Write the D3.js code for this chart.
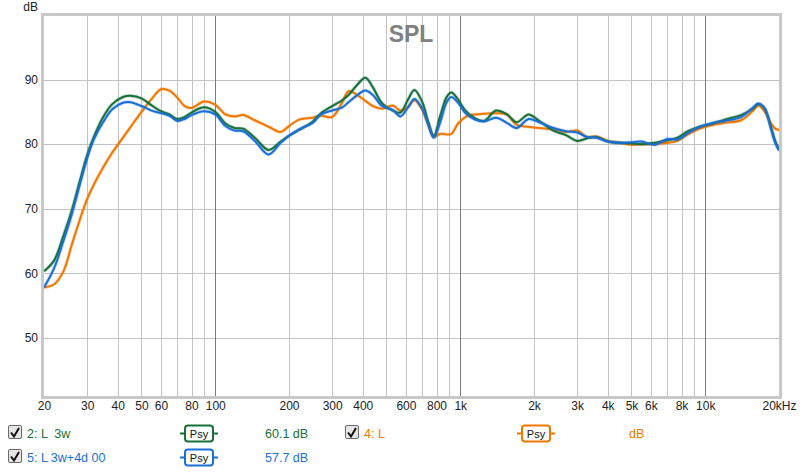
<!DOCTYPE html>
<html><head><meta charset="utf-8">
<script src="https://cdn.jsdelivr.net/npm/d3@7"></script>
<style>
body{margin:0;background:#fff;}
svg{display:block;font-family:"Liberation Sans",Arial,sans-serif;}
.pre{white-space:pre;}
</style></head>
<body>
<svg id="c" width="800" height="472"></svg>
<script>
const freqs = [20,22,24,26,28,30,32,35,38,42,45,50,55,60,65,70,75,80,90,100,110,120,130,145,165,185,200,220,250,270,300,330,350,380,410,440,480,530,570,610,650,700,740,780,830,880,920,980,1050,1150,1250,1400,1550,1700,1900,2100,2400,2700,3000,3300,3600,4000,4500,5000,5500,6200,7000,7700,8500,9500,10500,12000,14000,15500,16500,17500,18500,19300,20000];
const green3w = [60.3,62.0,65.8,69.8,74.3,78.3,81.2,84.3,86.2,87.3,87.5,87.1,86.0,85.1,84.6,83.9,84.2,84.9,85.7,85.0,83.2,82.5,82.4,81.0,79.1,80.4,81.3,82.2,83.5,84.8,85.9,86.8,87.6,89.2,90.3,88.8,86.3,85.2,84.9,86.8,88.4,86.5,83.5,81.3,84.5,87.3,88.0,86.9,85.2,84.0,83.6,85.2,84.6,83.4,84.6,83.6,82.1,81.4,80.5,80.9,81.1,80.4,80.2,80.1,80.0,80.2,80.6,81.0,82.0,82.7,83.1,83.8,84.5,85.4,86.2,85.5,82.8,80.5,79.2];
const blue3w4d = [57.8,60.8,65.0,69.2,73.7,77.8,80.8,83.5,85.4,86.4,86.5,85.9,85.2,84.8,84.4,83.6,83.9,84.5,85.1,84.6,82.8,82.1,82.0,80.5,78.4,80.2,81.3,82.3,83.3,84.6,85.2,85.7,86.5,87.6,88.3,87.6,85.9,85.3,84.3,85.6,87.0,85.5,83.0,81.0,83.5,86.5,87.3,86.4,84.8,83.8,83.5,84.1,83.3,82.5,83.9,83.4,82.5,82.0,81.8,81.1,81.0,80.4,80.2,80.3,80.4,79.9,80.8,80.7,81.7,82.7,83.2,83.6,84.2,85.5,86.3,85.5,82.5,80.2,79.0];
const orangeL = [57.8,58.3,60.3,64.5,68.3,71.5,73.8,76.5,78.7,81.0,82.6,85.0,87.0,88.5,88.3,87.2,85.9,85.6,86.6,86.1,84.6,84.3,84.5,83.7,82.7,81.9,82.8,83.8,84.1,84.4,84.2,86.5,88.2,87.6,86.7,85.9,85.5,86.0,85.2,85.7,86.8,85.3,83.0,81.1,81.6,81.5,81.6,83.2,84.2,84.6,84.7,84.8,84.6,83.0,82.7,82.5,82.3,81.9,82.1,81.1,81.2,80.5,80.2,79.9,80.0,80.0,80.2,80.5,81.5,82.4,82.9,83.3,83.7,85.0,86.0,85.0,83.3,82.4,82.2];

const xGrid = [30,40,50,60,70,80,90,100,200,300,400,500,600,700,800,900,1000,2000,3000,4000,5000,6000,7000,8000,9000,10000];
const xMajor = [100,1000,10000];
const xTickVals = [20,30,40,50,60,80,100,200,300,400,600,800,1000,2000,3000,4000,5000,6000,8000,10000,20000];
const xTickLabels = ["20","30","40","50","60","80","100","200","300","400","600","800","1k","2k","3k","4k","5k","6k","8k","10k","20kHz"];
const yTicks = [90,80,70,60,50];

const legendRows = [
  {row:0,col:0,name:"2: L  3w",value:"60.1 dB",color:"#17703a"},
  {row:0,col:1,name:"4: L",value:"dB",color:"#f07800"},
  {row:1,col:0,name:"5: L 3w+4d 00",value:"57.7 dB",color:"#1a6fd6"}
];

const svg = d3.select("#c");
const L=44,R=779,T=15,B=396;
const x = d3.scaleLog().domain([20,20000]).range([L,R]);
const y = d3.scaleLinear().domain([41,100]).range([B,T]);

const g = svg.append("g");
g.selectAll(".hg").data(yTicks).enter().append("line")
  .attr("x1",L).attr("x2",R).attr("y1",d=>Math.round(y(d))+0.5).attr("y2",d=>Math.round(y(d))+0.5)
  .attr("stroke","#c3c3c3").attr("stroke-width",1);
g.selectAll(".vg").data(xGrid).enter().append("line")
  .attr("y1",T).attr("y2",B).attr("x1",d=>Math.round(x(d))+0.5).attr("x2",d=>Math.round(x(d))+0.5)
  .attr("stroke",d=>xMajor.includes(d)?"#7a7a7a":"#c3c3c3").attr("stroke-width",1);

svg.append("text").attr("x",411).attr("y",41.5).attr("text-anchor","middle")
  .attr("font-size",23).attr("font-weight","bold").attr("fill","#808080").text("SPL");

const line = d3.line().x((d,i)=>x(freqs[i])).y(d=>y(d)).curve(d3.curveCatmullRom.alpha(0.5));
svg.append("clipPath").attr("id","pc").append("rect").attr("x",L).attr("y",T).attr("width",R-L).attr("height",B-T);
const cg = svg.append("g").attr("clip-path","url(#pc)");
[[orangeL,"#f07800"],[green3w,"#17703a"],[blue3w4d,"#1a6fd6"]].forEach(([vals,col])=>{
  cg.append("path").datum(vals).attr("d",line).attr("fill","none").attr("stroke",col).attr("stroke-opacity",0.25).attr("stroke-width",3.6);
  cg.append("path").datum(vals).attr("d",line).attr("fill","none").attr("stroke",col).attr("stroke-width",2);
});

svg.append("rect").attr("x",42.5).attr("y",14.5).attr("width",738).attr("height",383)
  .attr("fill","none").attr("stroke","#c8c8c8").attr("stroke-width",3);

const xa = d3.axisBottom(x).tickValues(xTickVals).tickSize(0).tickPadding(0)
  .tickFormat((d,i)=>xTickLabels[i]);
const xg = svg.append("g").attr("transform",`translate(0,${B+5})`).call(xa);
xg.select(".domain").remove();
xg.selectAll("text").attr("font-size",12).attr("fill","#222").attr("font-family","Liberation Sans, Arial, sans-serif");

const ya = d3.axisLeft(y).tickValues(yTicks).tickSize(0).tickPadding(0);
const yg = svg.append("g").attr("transform",`translate(38,0)`).call(ya);
yg.select(".domain").remove();
yg.selectAll("text").attr("font-size",12).attr("fill","#222").attr("font-family","Liberation Sans, Arial, sans-serif");
svg.append("text").attr("x",38).attr("y",11).attr("text-anchor","end").attr("font-size",12).attr("fill","#222").text("dB");

const colX = [8,345];
const rowY = [433,457];
legendRows.forEach(r=>{
  const x0 = colX[r.col], yc = rowY[r.row];
  const lg = svg.append("g");
  lg.append("rect").attr("x",x0+0.5).attr("y",yc-7.5).attr("width",13).attr("height",13)
    .attr("fill","#e6e6e6").attr("stroke","#6a6a6a").attr("rx",1.5);
  lg.append("path").attr("d",`M${x0+3},${yc-0.5} L${x0+6},${yc+3.5} L${x0+11},${yc-5}`)
    .attr("fill","none").attr("stroke","#111").attr("stroke-width",2);
  lg.append("text").attr("class","pre").attr("x",x0+19).attr("y",yc+4.5).attr("font-size",12.5).attr("fill",r.color).text(r.name);
  const px = x0+172;
  lg.append("line").attr("x1",px).attr("x2",px+38).attr("y1",yc+0.5).attr("y2",yc+0.5).attr("stroke",r.color).attr("stroke-width",2);
  lg.append("rect").attr("x",px+5).attr("y",yc-7.5).attr("width",28).attr("height",16).attr("rx",3)
    .attr("fill","#fff").attr("stroke",r.color).attr("stroke-width",2);
  lg.append("text").attr("x",px+19).attr("y",yc+4.5).attr("text-anchor","middle").attr("font-size",11).attr("fill","#111").text("Psy");
  lg.append("text").attr("x",x0+(r.col===0?257:284)).attr("y",yc+4.5).attr("font-size",12.5).attr("fill",r.color).text(r.value);
});
</script>
</body></html>
